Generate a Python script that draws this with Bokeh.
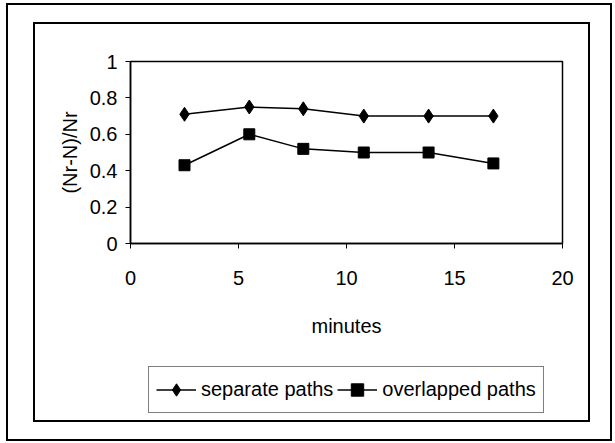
from bokeh.plotting import figure
from bokeh.layouts import column
from bokeh.models import Range1d, FixedTicker, Legend, LegendItem
from bokeh.embed import file_html
from bokeh.resources import INLINE

# ---- data ----
minutes = [2.5, 5.5, 8.0, 10.8, 13.8, 16.8]
separate_paths = [0.71, 0.75, 0.74, 0.70, 0.70, 0.70]
overlapped_paths = [0.43, 0.60, 0.52, 0.50, 0.50, 0.44]
x_ticks = [0, 5, 10, 15, 20]
y_ticks = [0, 0.2, 0.4, 0.6, 0.8, 1]
series_names = ["separate paths", "overlapped paths"]
x_title = "minutes"
y_title = "(Nr-N)/Nr"

FONT = "Liberation Sans"

# ---- main chart ----
p = figure(width=553, height=339, output_backend="svg", toolbar_location=None,
           x_range=Range1d(0, 20), y_range=Range1d(0, 1),
           min_border_left=95, min_border_right=26,
           min_border_top=37, min_border_bottom=120,
           background_fill_color="white", border_fill_color="white")

p.xgrid.visible = False
p.ygrid.visible = False
p.outline_line_color = "black"
p.outline_line_width = 1.5

for ax, ticks in ((p.xaxis[0], x_ticks), (p.yaxis[0], y_ticks)):
    ax.ticker = FixedTicker(ticks=ticks)
    ax.minor_tick_line_color = None
    ax.major_tick_in = 0
    ax.major_tick_out = 5
    ax.axis_line_color = "black"
    ax.axis_line_width = 1.5
    ax.major_tick_line_color = "black"
    ax.major_label_text_font = FONT
    ax.major_label_text_font_size = "20px"
    ax.major_label_text_color = "black"
    ax.axis_label_text_font = FONT
    ax.axis_label_text_font_size = "20px"
    ax.axis_label_text_font_style = "normal"
    ax.axis_label_text_color = "black"
    ax.major_label_overrides = {t: str(t) for t in ticks}

p.xaxis.axis_label = x_title
p.yaxis.axis_label = y_title
p.xaxis.major_label_standoff = 22
p.xaxis.axis_label_standoff = 27
p.yaxis.major_label_standoff = 8
p.yaxis.axis_label_standoff = 6

line_kw = dict(line_color="black", line_width=1.5)
sep_marker = dict(marker="diamond", size=14, fill_color="black", line_color="black")
ovl_marker = dict(marker="square", size=11, fill_color="black", line_color="black")

p.line(minutes, separate_paths, **line_kw)
p.scatter(minutes, separate_paths, **sep_marker)
p.line(minutes, overlapped_paths, **line_kw)
p.scatter(minutes, overlapped_paths, **ovl_marker)

# ---- legend strip: same series, drawn out of view, only the legend shows ----
lg = figure(width=553, height=57, output_backend="svg", toolbar_location=None,
            x_range=Range1d(100, 101), y_range=Range1d(100, 101),
            x_axis_type=None, y_axis_type=None, min_border=0,
            background_fill_color="white", border_fill_color="white")
lg.outline_line_color = None
lg.xgrid.visible = False
lg.ygrid.visible = False
r1 = lg.line(minutes, separate_paths, **line_kw)
s1 = lg.scatter(minutes, separate_paths, **sep_marker)
r2 = lg.line(minutes, overlapped_paths, **line_kw)
s2 = lg.scatter(minutes, overlapped_paths, **ovl_marker)

legend = Legend(items=[LegendItem(label=series_names[0], renderers=[r1, s1]),
                       LegendItem(label=series_names[1], renderers=[r2, s2])],
                location=(18, 7), orientation="horizontal",
                border_line_color="black", border_line_width=1,
                background_fill_color="white", background_fill_alpha=1,
                label_text_font=FONT, label_text_font_size="20px",
                label_text_color="black", glyph_width=40, glyph_height=31,
                label_height=31, label_standoff=5, padding=7, spacing=4, margin=0)
lg.add_layout(legend, "center")

inner = column(p, lg, spacing=0, margin=(21, 24, 21, 29),
               styles={"outline": "2px solid black", "outline-offset": "0px"})
layout = column(inner, margin=(3, 0, 0, 6),
                styles={"outline": "2px solid black", "outline-offset": "-2px"})

open("out.html", "w").write(file_html(layout, INLINE))
